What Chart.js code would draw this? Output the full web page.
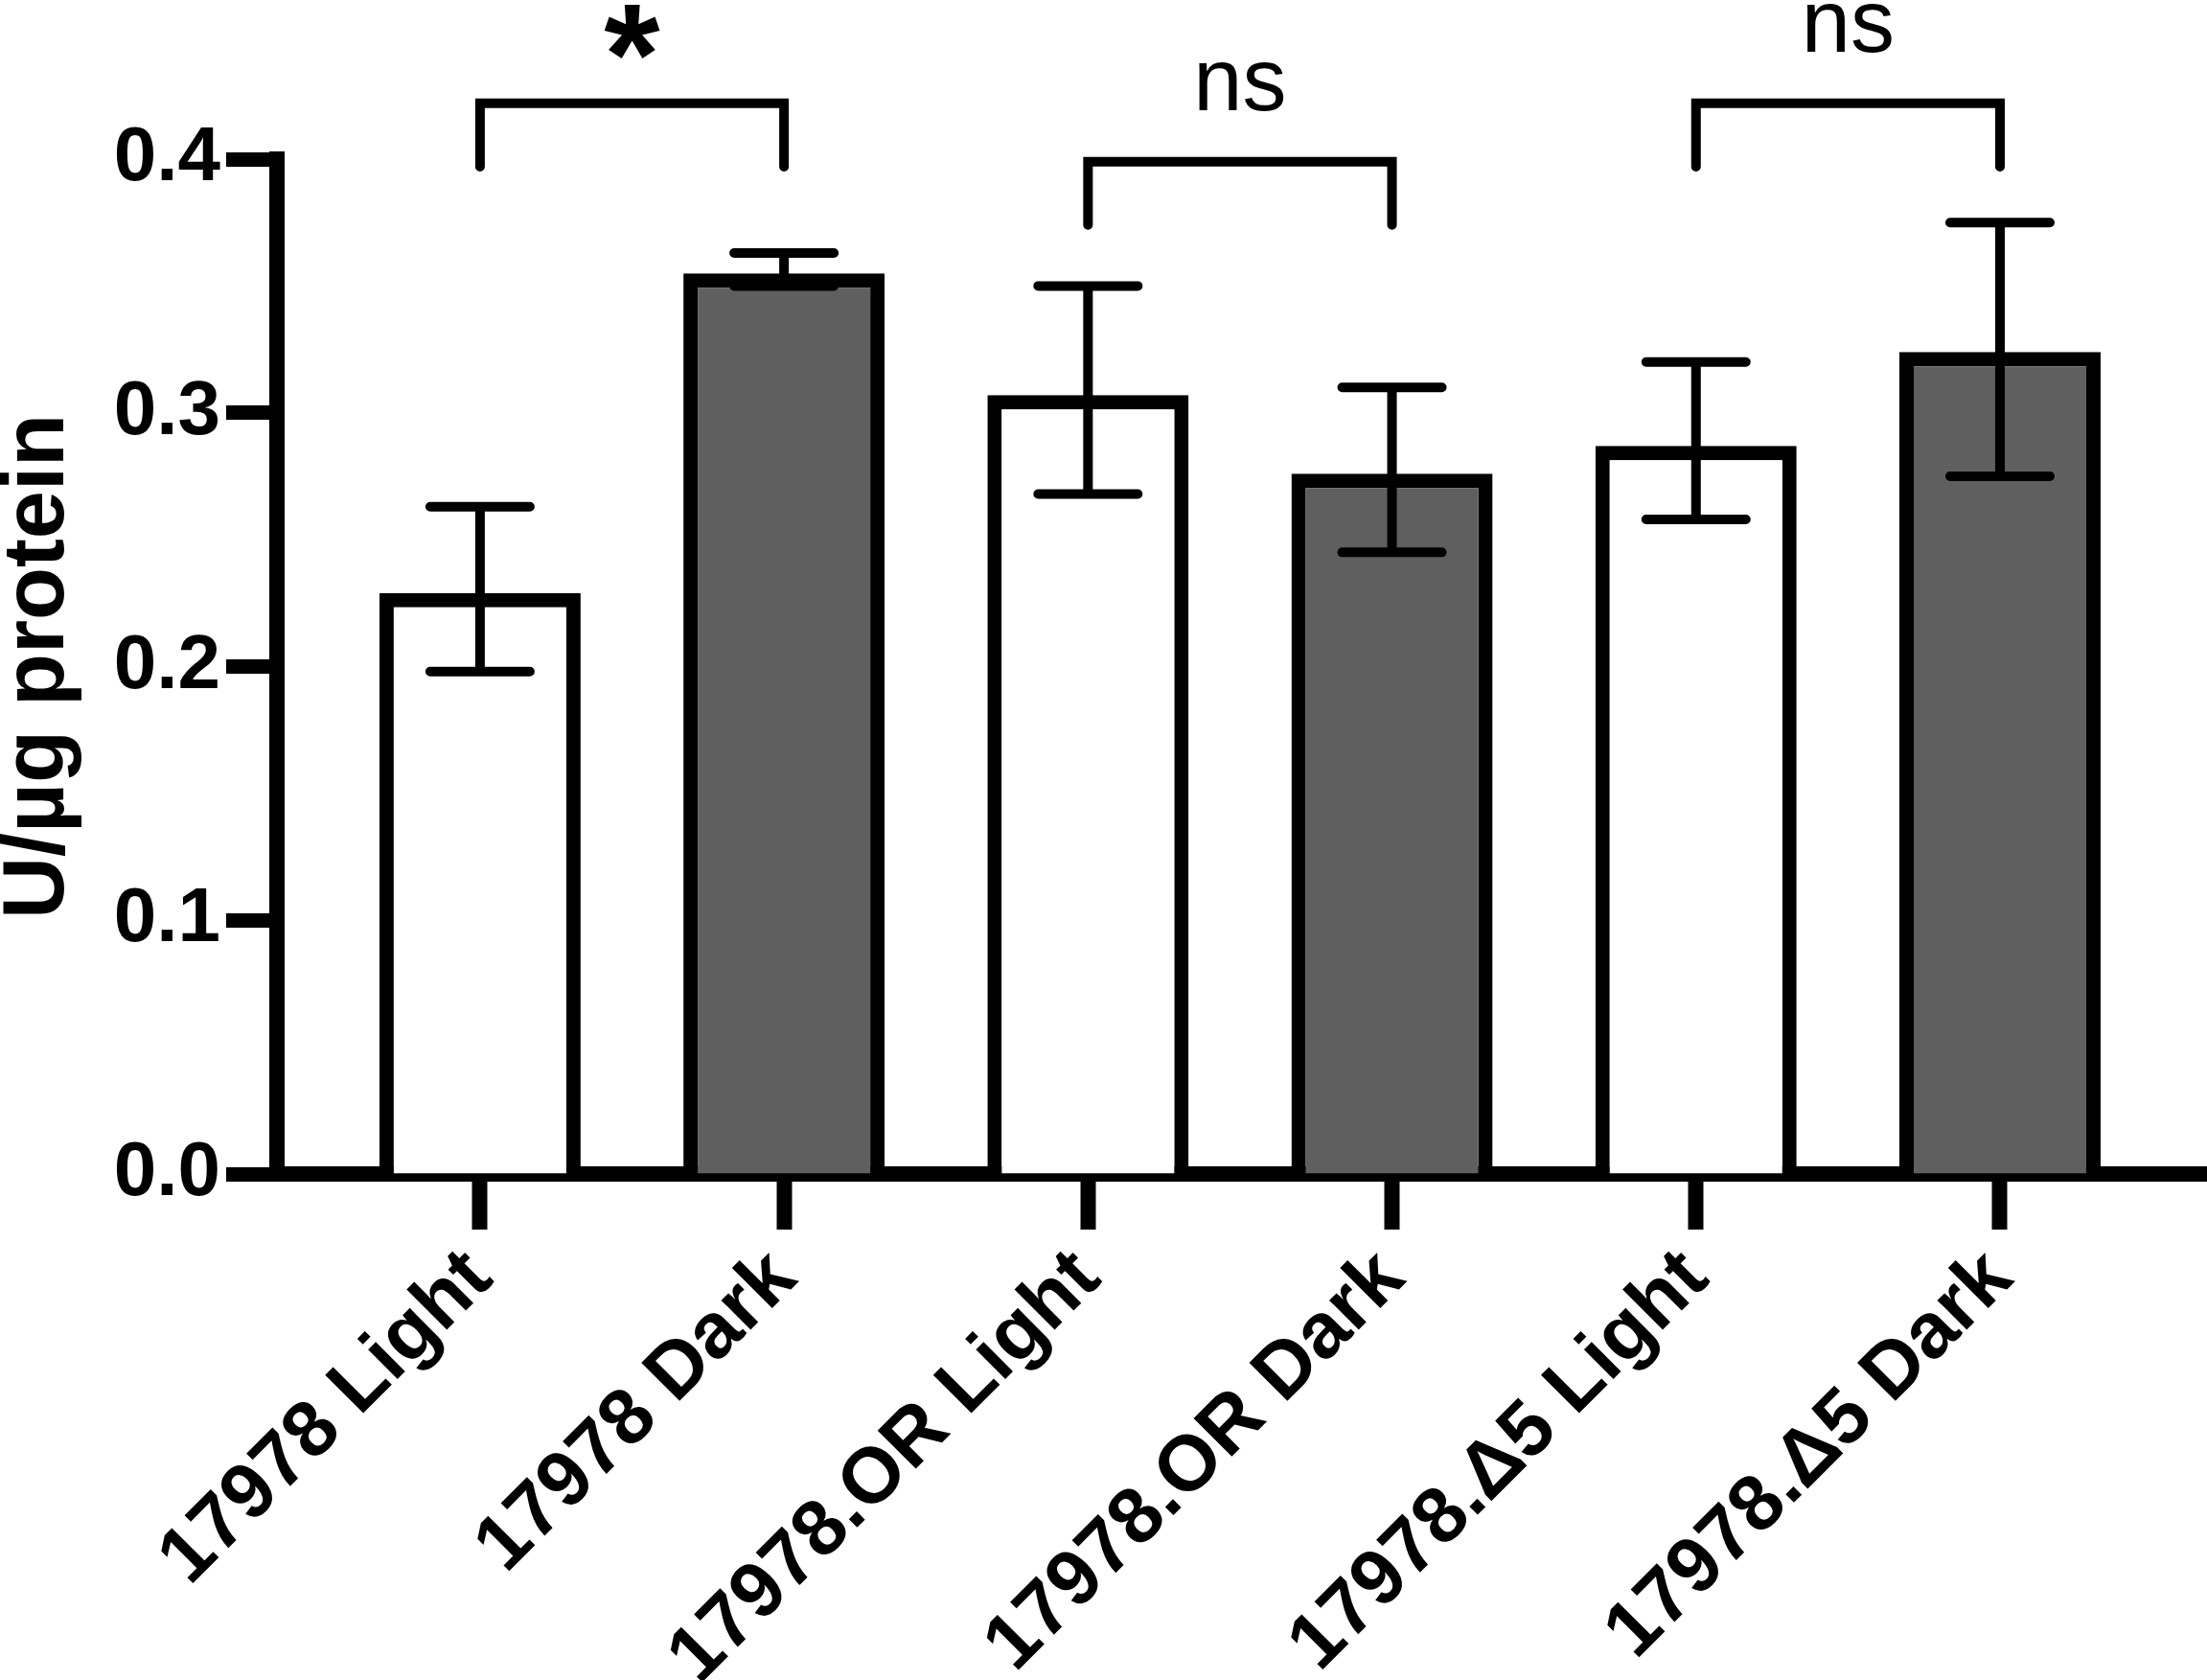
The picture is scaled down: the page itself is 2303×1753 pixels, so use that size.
<!DOCTYPE html>
<html>
<head>
<meta charset="utf-8">
<script src="https://cdn.jsdelivr.net/npm/chart.js@4.4.0/dist/chart.umd.min.js"></script>
<style>
  html, body { margin: 0; padding: 0; background: #fff; }
</style>
</head>
<body>
<canvas id="chart" width="2303" height="1753"></canvas>
<script>
// groups on the x axis
const categories = ['17978 Light', '17978 Dark', '17978.OR Light', '17978.OR Dark', '17978.\u03945 Light', '17978.\u03945 Dark'];
// mean activity (U/µg protein)
const means = [0.229, 0.355, 0.307, 0.276, 0.287, 0.324];
// error bar ends
const errHigh = [0.263, 0.363, 0.350, 0.310, 0.320, 0.375];
const errLow = [0.198, 0.350, 0.268, 0.245, 0.258, 0.275];
const yTicks = [0, 0.1, 0.2, 0.3, 0.4];
// pairwise comparisons and their result
const comparisons = [[0, 1], [2, 3], [4, 5]];
const compLabels = ['*', 'ns', 'ns'];
const bracketTop = [0.422, 0.399, 0.422];
const bracketFoot = [0.397, 0.374, 0.397];

const FONT = '"Liberation Sans", Arial, Helvetica, sans-serif';
const DARK = '#5f5f5f';

// mean +/- error whiskers
const errorBars = {
  id: 'errorBars',
  afterDatasetsDraw(chart) {
    const { ctx, scales: { x, y } } = chart;
    ctx.save();
    ctx.strokeStyle = '#000';
    ctx.lineWidth = 10;
    ctx.lineCap = 'round';
    means.forEach((m, i) => {
      const px = x.getPixelForValue(i + 1);
      const hi = y.getPixelForValue(errHigh[i]);
      const lo = y.getPixelForValue(errLow[i]);
      ctx.beginPath();
      ctx.moveTo(px, hi); ctx.lineTo(px, lo);
      ctx.moveTo(px - 52, hi); ctx.lineTo(px + 52, hi);
      ctx.moveTo(px - 52, lo); ctx.lineTo(px + 52, lo);
      ctx.stroke();
    });
    ctx.restore();
  }
};

// significance brackets above the pairs
const brackets = {
  id: 'brackets',
  afterDraw(chart) {
    const { ctx, scales: { x, y } } = chart;
    ctx.save();
    ctx.strokeStyle = '#000';
    ctx.fillStyle = '#000';
    ctx.lineWidth = 10;
    ctx.lineCap = 'round';
    ctx.lineJoin = 'miter';
    comparisons.forEach(([a, b], i) => {
      const x1 = x.getPixelForValue(a + 1);
      const x2 = x.getPixelForValue(b + 1);
      const top = y.getPixelForValue(bracketTop[i]);
      const foot = y.getPixelForValue(bracketFoot[i]);
      ctx.beginPath();
      ctx.moveTo(x1, foot);
      ctx.lineTo(x1, top);
      ctx.lineTo(x2, top);
      ctx.lineTo(x2, foot);
      ctx.stroke();

      const star = compLabels[i] === '*';
      ctx.font = (star ? 'bold 150px ' : '92px ') + FONT;
      ctx.textAlign = 'center';
      ctx.textBaseline = 'alphabetic';
      const m = ctx.measureText(compLabels[i]);
      const gap = star ? 46 : 53;
      // put the bottom of the ink 'gap' px above the bracket
      ctx.fillText(compLabels[i], (x1 + x2) / 2, top - gap - m.actualBoundingBoxDescent);
    });
    ctx.restore();
  }
};

new Chart(document.getElementById('chart'), {
  type: 'bar',
  data: {
    datasets: [{
      data: means.map((v, i) => ({ x: i + 1, y: v })),
      backgroundColor: means.map((v, i) => (i % 2 ? DARK : '#ffffff')),
      borderColor: '#000',
      borderWidth: 15,
      barPercentage: 0.662,
      categoryPercentage: 1
    }]
  },
  options: {
    responsive: false,
    animation: false,
    devicePixelRatio: 1,
    layout: { padding: { top: 166, right: 0, bottom: 0, left: 0 } },
    plugins: {
      legend: { display: false },
      tooltip: { enabled: false }
    },
    scales: {
      x: {
        type: 'linear',
        min: 0.332,
        max: 6.681,
        offset: false,
        afterBuildTicks: s => { s.ticks = categories.map((c, i) => ({ value: i + 1 })); },
        afterFit: s => { s.height = 528; },
        grid: {
          drawOnChartArea: false,
          offset: false,
          tickLength: 58,
          tickWidth: 16,
          tickColor: '#000'
        },
        border: { color: '#000', width: 16 },
        ticks: {
          autoSkip: false,
          minRotation: 45,
          maxRotation: 45,
          padding: 3,
          color: '#000',
          font: { family: FONT, size: 82, weight: 'bold' },
          callback: v => categories[v - 1]
        }
      },
      y: {
        min: 0,
        max: 0.4,
        afterBuildTicks: s => { s.ticks = yTicks.map(v => ({ value: v })); },
        afterFit: s => { s.width = 289; },
        grid: {
          drawOnChartArea: false,
          tickLength: 53,
          tickWidth: 15,
          tickColor: '#000'
        },
        border: { color: '#000', width: 16 },
        ticks: {
          padding: 6,
          color: '#000',
          font: { family: FONT, size: 80, weight: 'bold' },
          callback: v => v.toFixed(1)
        },
        title: {
          display: true,
          text: 'U/\u00b5g protein',
          color: '#000',
          padding: 0,
          font: { family: FONT, size: 90, weight: 'bold', lineHeight: 0.92 }
        }
      }
    }
  },
  plugins: [errorBars, brackets]
});
</script>
</body>
</html>
